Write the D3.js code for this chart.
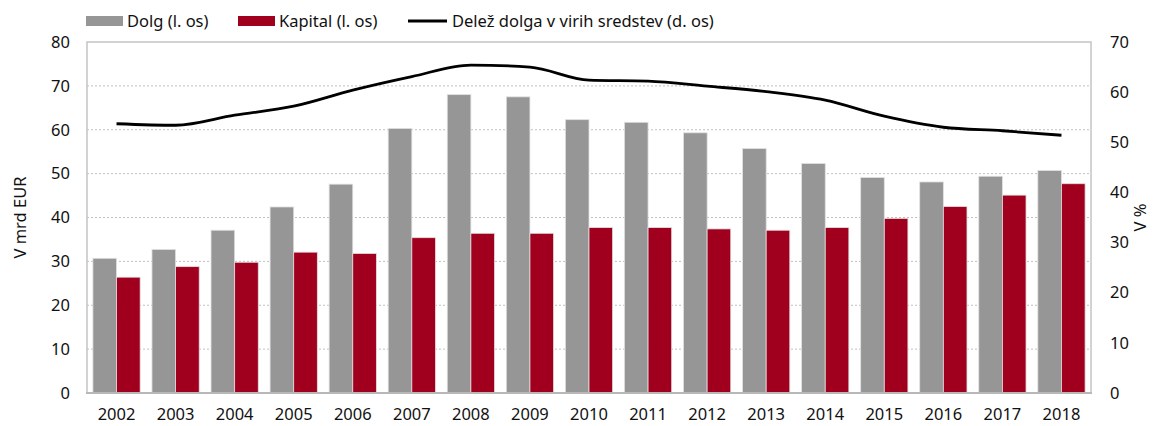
<!DOCTYPE html>
<html>
<head>
<meta charset="utf-8">
<script src="https://cdn.jsdelivr.net/npm/d3@7"></script>
<style>
  body { margin: 0; background: #fff; }
  svg { font-family: "Noto Sans", "Open Sans", sans-serif; }
</style>
</head>
<body>
<script>
// data
var years = ["2002", "2003", "2004", "2005", "2006", "2007", "2008", "2009", "2010",
             "2011", "2012", "2013", "2014", "2015", "2016", "2017", "2018"];
var dolg = [30.7, 32.7, 37.1, 42.4, 47.6, 60.3, 68.0, 67.5, 62.3, 61.7, 59.3, 55.7, 52.3, 49.1, 48.1, 49.4, 50.7];
var kapital = [26.4, 28.8, 29.8, 32.1, 31.8, 35.4, 36.4, 36.4, 37.7, 37.7, 37.4, 37.1, 37.7, 39.8, 42.5, 45.1, 47.7];
var delez = [53.7, 53.4, 55.4, 57.2, 60.4, 63.1, 65.4, 65.0, 62.4, 62.2, 61.2, 60.1, 58.4, 55.2, 53.0, 52.3, 51.4];
var leftTicks = [0, 10, 20, 30, 40, 50, 60, 70, 80];
var rightTicks = [0, 10, 20, 30, 40, 50, 60, 70];
var seriesNames = ["Dolg (l. os)", "Kapital (l. os)", "Delež dolga v virih sredstev (d. os)"];

var w = 1153, h = 426;
var margin = {top: 42, right: 62, bottom: 33, left: 87};
var gray = "#969696", red = "#a0001e";

var svg = d3.select("body").append("svg").attr("width", w).attr("height", h);

var x = d3.scaleBand().domain(years)
    .range([margin.left, w - margin.right])
    .paddingInner(0.2).paddingOuter(0.1);
var sub = d3.scaleBand().domain(["dolg", "kapital"]).range([0, x.bandwidth()]);
var yL = d3.scaleLinear().domain([0, 80]).range([h - margin.bottom, margin.top]);
var yR = d3.scaleLinear().domain([0, 70]).range([h - margin.bottom, margin.top]);

// grid
svg.append("g").selectAll("line").data(leftTicks.slice(1, -1)).enter().append("line")
    .attr("x1", margin.left).attr("x2", w - margin.right)
    .attr("y1", d => yL(d)).attr("y2", d => yL(d))
    .attr("stroke", "#c0c0c0").attr("stroke-width", 1).attr("stroke-dasharray", "2,2");

// plot frame
svg.append("rect")
    .attr("x", margin.left).attr("y", margin.top)
    .attr("width", w - margin.left - margin.right).attr("height", h - margin.top - margin.bottom)
    .attr("fill", "none").attr("stroke", "#c4c4c4").attr("stroke-width", 1.5);

// bars
var barData = years.map((y, i) => ({year: y, dolg: dolg[i], kapital: kapital[i]}));
var groups = svg.append("g").selectAll("g").data(barData).enter().append("g")
    .attr("transform", d => "translate(" + x(d.year) + ",0)");
groups.selectAll("rect").data(d => [{k: "dolg", v: d.dolg}, {k: "kapital", v: d.kapital}])
    .enter().append("rect")
    .attr("x", d => sub(d.k))
    .attr("width", sub.bandwidth())
    .attr("y", d => yL(d.v))
    .attr("height", d => yL(0) - yL(d.v))
    .attr("fill", d => d.k == "dolg" ? gray : red)
    .attr("stroke", "#e0e0e0").attr("stroke-width", 0.8);

// bottom axis line
svg.append("line")
    .attr("x1", margin.left - 1).attr("x2", w - margin.right + 1)
    .attr("y1", yL(0)).attr("y2", yL(0))
    .attr("stroke", "#b8b8b8").attr("stroke-width", 2);

// line
var line = d3.line()
    .x((d, i) => x(years[i]) + x.bandwidth() / 2)
    .y(d => yR(d))
    .curve(d3.curveMonotoneX);
svg.append("path").datum(delez)
    .attr("d", line).attr("fill", "none")
    .attr("stroke", "#000").attr("stroke-width", 2.8);

// axes text
var fs = "16.5px";
svg.append("g").selectAll("text").data(leftTicks).enter().append("text")
    .attr("x", 70).attr("y", d => yL(d)).attr("dy", "0.35em")
    .attr("text-anchor", "end").attr("font-size", fs).attr("fill", "#111")
    .text(d => d);
svg.append("g").selectAll("text").data(rightTicks).enter().append("text")
    .attr("x", 1110).attr("y", d => yR(d)).attr("dy", "0.35em")
    .attr("text-anchor", "start").attr("font-size", fs).attr("fill", "#111")
    .text(d => d);
svg.append("g").selectAll("text").data(years).enter().append("text")
    .attr("x", d => x(d) + x.bandwidth() / 2).attr("y", 420)
    .attr("text-anchor", "middle").attr("font-size", fs).attr("fill", "#111")
    .text(d => d);

var midY = (margin.top + h - margin.bottom) / 2;
svg.append("text")
    .attr("transform", "translate(26," + midY + ") rotate(-90)")
    .attr("text-anchor", "middle").attr("font-size", fs).attr("fill", "#111")
    .text("V mrd EUR");
svg.append("text")
    .attr("transform", "translate(1146," + midY + ") rotate(-90)")
    .attr("text-anchor", "middle").attr("font-size", fs).attr("fill", "#111")
    .text("V %");

// legend
var legend = svg.append("g");
var legItems = [
    {x: 86, type: "rect", color: gray, name: seriesNames[0]},
    {x: 238, type: "rect", color: red, name: seriesNames[1]},
    {x: 408, type: "line", color: "#000", name: seriesNames[2]}
];
legItems.forEach(function (d) {
    if (d.type == "rect") {
        legend.append("rect").attr("x", d.x).attr("y", 16).attr("width", 37).attr("height", 10)
            .attr("fill", d.color);
    } else {
        legend.append("line").attr("x1", d.x).attr("x2", d.x + 39).attr("y1", 21).attr("y2", 21)
            .attr("stroke", d.color).attr("stroke-width", 2.8);
    }
    legend.append("text").attr("x", d.x + (d.type == "rect" ? 41 : 44)).attr("y", 27)
        .attr("font-size", fs).attr("fill", "#111").text(d.name);
});
</script>
</body>
</html>
